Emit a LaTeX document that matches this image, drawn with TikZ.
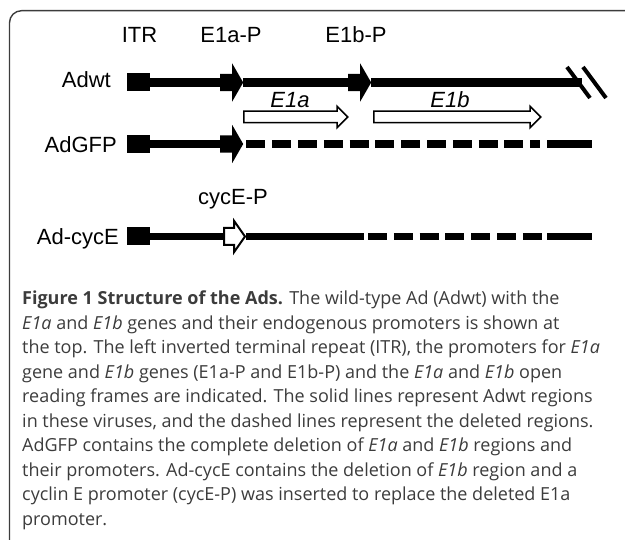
\documentclass[tikz,border=0pt]{standalone}
\usepackage{fontspec}
\setmainfont{Liberation Sans}
\newfontfamily\capfont{Open Sans}
\usetikzlibrary{shapes.arrows}

\definecolor{capgray}{HTML}{3C3C3C}
\tikzset{
  lbl/.style={font=\fontsize{22}{26}\selectfont, inner sep=0pt},
  itrbox/.style={fill=black, minimum width=23pt, minimum height=18pt, inner sep=0pt},
  prom/.style={single arrow, fill=black, inner xsep=0pt, inner ysep=8.5pt,
    minimum height=23pt, single arrow head extend=10.5pt, single arrow tip angle=120},
  promopen/.style={single arrow, draw, fill=white, line width=2pt, inner xsep=0pt,
    inner ysep=7.5pt, minimum height=21pt, single arrow head extend=7pt, single arrow tip angle=110},
  orf/.style={single arrow, draw, fill=white, line width=1.5pt, inner xsep=0pt,
    inner ysep=5pt, single arrow head extend=5pt, single arrow tip angle=90},
  dna/.style={line width=7.5pt},
  deleted/.style={line width=7.5pt, dash pattern=on 19pt off 6.8pt},
}

\begin{document}
\begin{tikzpicture}[x=1pt, y=-1pt]
  \useasboundingbox (0,0) rectangle (625,540);
  % frame
  \draw[line width=1.4pt, color=capgray, rounded corners=12pt] (9.5,542) -- (9.5,10.7) -- (627,10.7);

  % top labels
  \node[lbl, anchor=base] (itrlbl) at (139.5,43) {ITR};
  \node[lbl, anchor=base] (pAlbl) at (231,43) {E1a-P};
  \node[lbl, anchor=base] (pBlbl) at (356,43) {E1b-P};

  % Adwt
  \node[lbl, anchor=base east] (adwt) at (111,88) {Adwt};
  \node[itrbox] (itr1) at (138.5,82.5) {};
  \node[prom, anchor=tail] (pA1) at (220,82.5) {};
  \node[prom, anchor=tail] (pB1) at (348,82.5) {};
  \coordinate (endA) at (582,82.5);
  \draw[dna, line width=9pt] (itr1.east) -- (pA1.tail);
  \draw[dna, line width=9pt] (pA1.tip) -- (pB1.tail);
  \draw[dna, line width=9pt] (pB1.tip) -- (endA);
  \draw[line width=4pt] (567,67) -- (590,98);
  \draw[line width=4pt] (583,67) -- (606,98);

  % open reading frames
  \node[orf, minimum height=104pt, anchor=tail] (orfA) at (243,117) {};
  \node[orf, minimum height=167pt, anchor=tail] (orfB) at (373,117) {};
  \node[lbl, anchor=base, font=\fontsize{22}{26}\selectfont\itshape] (orfAlbl) at (290,108) {E1a};
  \node[lbl, anchor=base, font=\fontsize{22}{26}\selectfont\itshape] (orfBlbl) at (450,108) {E1b};

  % AdGFP
  \node[lbl, anchor=base east] (adgfp) at (117,153) {AdGFP};
  \node[itrbox] (itr2) at (138.5,144) {};
  \node[prom, anchor=tail] (pA2) at (220,144) {};
  \coordinate (gEnd) at (540,144);
  \coordinate (gSol) at (547,144);
  \coordinate (gEnd2) at (592,144);
  \draw[dna] (itr2.east) -- (pA2.tail);
  \draw[deleted] ([xshift=3pt]pA2.tip) -- (gEnd);
  \draw[dna] (gSol) -- (gEnd2);

  % Ad-cycE
  \node[lbl, anchor=base] (pClbl) at (233,205) {cycE-P};
  \node[lbl, anchor=base east] (adcyce) at (119,245) {Ad-cycE};
  \node[itrbox] (itr3) at (138.5,236.5) {};
  \node[promopen, anchor=tail] (pC) at (223,236.5) {};
  \coordinate (cMid) at (364,236.5);
  \coordinate (cDel) at (368,236.5);
  \coordinate (cEnd) at (542,236.5);
  \coordinate (cSol) at (547,236.5);
  \coordinate (cEnd2) at (592,236.5);
  \draw[dna] (itr3.east) -- (pC.tail);
  \draw[dna] (pC.tip) -- (cMid);
  \draw[deleted] (cDel) -- (cEnd);
  \draw[dna] (cSol) -- (cEnd2);

  % caption
  \node[anchor=north west, inner sep=0pt, align=left, text=capgray,
    font=\capfont\fontsize{18}{24.5}\selectfont] (caption) at (22,291) {%
    \textbf{Figure 1 Structure of the Ads.} The wild-type Ad (Adwt) with the\\
    \textit{E1a} and \textit{E1b} genes and their endogenous promoters is shown at\\
    the top. The left inverted terminal repeat (ITR), the promoters for \textit{E1a}\\
    gene and \textit{E1b} genes (E1a-P and E1b-P) and the \textit{E1a} and \textit{E1b} open\\
    reading frames are indicated. The solid lines represent Adwt regions\\
    in these viruses, and the dashed lines represent the deleted regions.\\
    AdGFP contains the complete deletion of \textit{E1a} and \textit{E1b} regions and\\
    their promoters. Ad-cycE contains the deletion of \textit{E1b} region and a\\
    cyclin E promoter (cycE-P) was inserted to replace the deleted E1a\\
    promoter.};
\end{tikzpicture}
\end{document}
